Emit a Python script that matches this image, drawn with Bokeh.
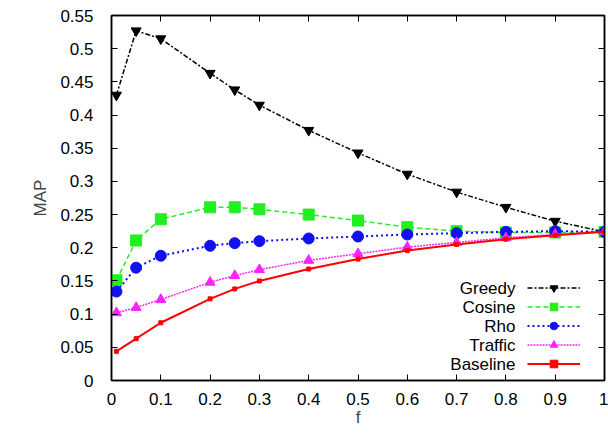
from bokeh.plotting import figure
from bokeh.models import (Range1d, LinearAxis, FixedTicker, Legend, LegendItem, Label,
                          CustomLabelingPolicy)
from bokeh.embed import file_html
from bokeh.resources import INLINE

f_vals = [0.01, 0.05, 0.1, 0.2, 0.25, 0.3, 0.4, 0.5, 0.6, 0.7, 0.8, 0.9, 1.0]
greedy = [0.430, 0.527, 0.515, 0.463, 0.438, 0.415, 0.377, 0.343, 0.311, 0.284, 0.261, 0.240, 0.224]
cosine = [0.151, 0.211, 0.243, 0.261, 0.261, 0.258, 0.250, 0.241, 0.231, 0.225, 0.223, 0.223, 0.224]
rho = [0.134, 0.170, 0.188, 0.203, 0.207, 0.210, 0.214, 0.217, 0.220, 0.222, 0.224, 0.225, 0.224]
traffic = [0.102, 0.110, 0.122, 0.148, 0.158, 0.167, 0.181, 0.191, 0.201, 0.208, 0.215, 0.220, 0.224]
baseline = [0.044, 0.063, 0.087, 0.123, 0.138, 0.150, 0.168, 0.183, 0.196, 0.205, 0.213, 0.219, 0.224]

x_ticks = [0, 0.1, 0.2, 0.3, 0.4, 0.5, 0.6, 0.7, 0.8, 0.9, 1.0]
y_ticks = [0, 0.05, 0.1, 0.15, 0.2, 0.25, 0.3, 0.35, 0.4, 0.45, 0.5, 0.55]
series_names = ["Greedy", "Cosine", "Rho", "Traffic", "Baseline"]

FONT = "Liberation Sans"
FS = "17px"

p = figure(width=608, height=437, output_backend="svg", toolbar_location=None,
           x_range=Range1d(0, 1), y_range=Range1d(0, 0.55),
           min_border_left=111, min_border_right=4, min_border_top=15, min_border_bottom=57)
p.grid.visible = False
p.outline_line_color = "black"
p.outline_line_width = 1.5
p.background_fill_color = "white"

hide_all = CustomLabelingPolicy(
    code="const arr = Array.from(indices); for (const i of arr) { indices.unset(i) } return indices")

def style_axis(ax, ticks, labels=True):
    ax.major_tick_in = 6
    ax.major_tick_out = 0
    ax.minor_tick_line_color = None
    ax.axis_line_color = "black"
    ax.axis_line_width = 1.5
    ax.major_tick_line_color = "black"
    ax.major_tick_line_width = 1
    ax.major_label_text_font = FONT
    ax.major_label_text_font_size = FS
    ax.major_label_text_color = "black"
    ax.axis_label_text_font = FONT
    ax.axis_label_text_font_size = FS
    ax.axis_label_text_font_style = "normal"
    if labels:
        ax.major_label_overrides = {t: ("%g" % t) for t in ticks}
    else:
        ax.major_label_overrides = {t: "" for t in ticks}
        ax.major_label_policy = hide_all
        ax.major_label_standoff = 0

p.xaxis.ticker = FixedTicker(ticks=x_ticks)
p.yaxis.ticker = FixedTicker(ticks=y_ticks)
p.xaxis.axis_label = "f"
p.yaxis.axis_label = "MAP"
style_axis(p.xaxis[0], x_ticks)
style_axis(p.yaxis[0], y_ticks)
p.xaxis.major_label_standoff = 12
p.yaxis.major_label_standoff = 18
p.xaxis.axis_label_standoff = 0
p.yaxis.axis_label_standoff = 7

top = LinearAxis(ticker=FixedTicker(ticks=x_ticks))
right = LinearAxis(ticker=FixedTicker(ticks=y_ticks))
style_axis(top, x_ticks, labels=False)
style_axis(right, y_ticks, labels=False)
p.add_layout(top, "above")
p.add_layout(right, "right")

specs = [
    (greedy, "black", "5 2 2 2", 1.5, "inverted_triangle", 10),
    (cosine, "#22ee22", "5 3", 1.5, "square", 11),
    (rho, "#1010f0", "2 3", 2, "circle", 11),
    (traffic, "#ff22ff", "2 1", 1.5, "triangle", 10),
    (baseline, "#ff0000", None, 2, "square", 4),
]

items = []
for (vals, col, dash, lw, mk, ms), name in zip(specs, series_names):
    kw = dict(line_color=col, line_width=lw)
    if dash:
        kw["line_dash"] = dash
    r1 = p.line(f_vals, vals, **kw)
    r2 = p.scatter(f_vals, vals, marker=mk, size=ms, fill_color=col, line_color=col)
    items.append(LegendItem(label="", renderers=[r1, r2]))

legend = Legend(items=items, location=(416, 7), glyph_width=53, glyph_height=19,
                label_width=0, label_height=19, label_standoff=0, spacing=0,
                padding=0, margin=0, border_line_alpha=0, background_fill_alpha=0,
                label_text_font_size="1px")
p.add_layout(legend, "center")

for i, name in enumerate(series_names):
    lab = Label(x=404, y=7 + 19 * (4 - i) + 9.5, x_units="screen", y_units="screen",
                text=name, text_align="right", text_baseline="middle",
                text_font=FONT, text_font_size=FS, text_color="black")
    p.add_layout(lab)

open("out.html", "w").write(file_html(p, INLINE))
